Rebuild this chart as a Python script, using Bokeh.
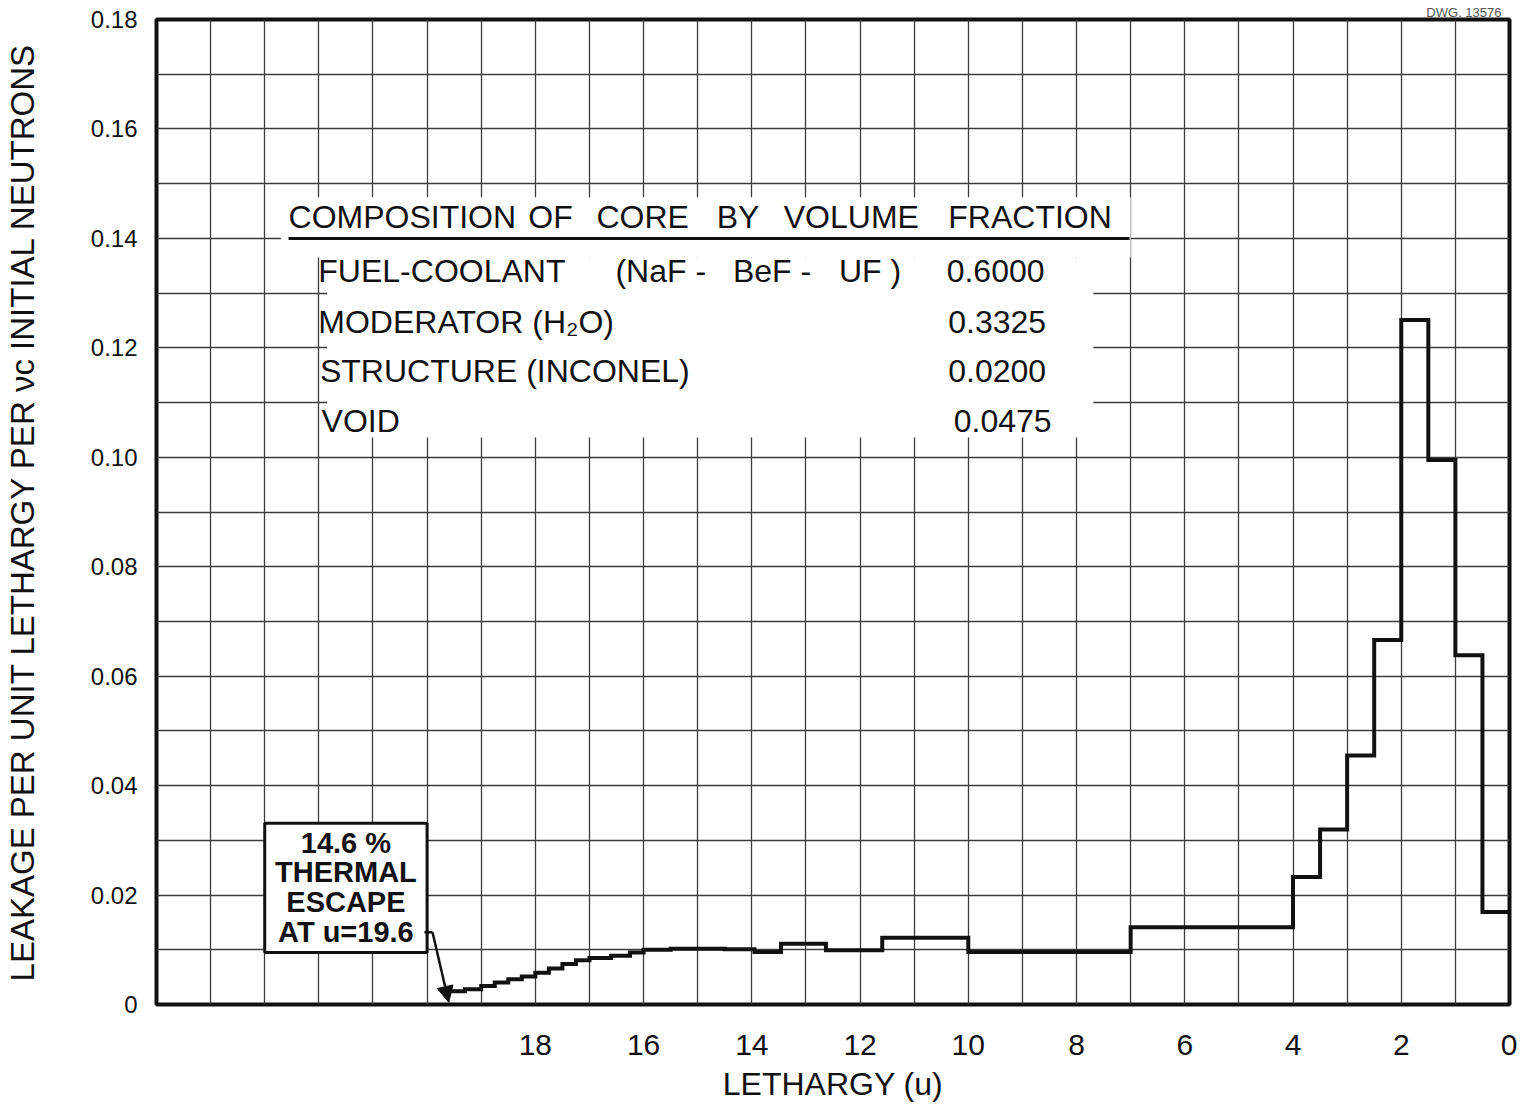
from bokeh.plotting import figure
from bokeh.models import Range1d, FixedTicker, Arrow, NormalHead, CustomJSTickFormatter
from bokeh.core.properties import value
from bokeh.embed import file_html
from bokeh.resources import INLINE

# ---- data ----
u_edges = [19.6, 19.3, 19.0, 18.75, 18.5, 18.25, 18.0, 17.75, 17.5, 17.25, 17.0,
           16.6, 16.25, 16.0, 15.5, 15.0, 14.5, 13.95, 13.46, 12.63, 11.59, 10.0,
           7.0, 4.0, 3.5, 3.0, 2.5, 2.0, 1.5, 1.0, 0.5, 0.0]
leakage = [0.0024, 0.0028, 0.0034, 0.0040, 0.0046, 0.0051, 0.0058, 0.0066, 0.0074,
           0.0081, 0.0085, 0.0089, 0.0095, 0.0100, 0.0102, 0.0102, 0.0101, 0.0096,
           0.0111, 0.0099, 0.0122, 0.0096, 0.0141, 0.0233, 0.0320, 0.0455, 0.0666,
           0.1251, 0.0995, 0.0638, 0.0169]
x_ticks = [18, 16, 14, 12, 10, 8, 6, 4, 2, 0]
y_ticks = [0, 0.02, 0.04, 0.06, 0.08, 0.10, 0.12, 0.14, 0.16, 0.18]
comp_labels = ["FUEL-COOLANT", "MODERATOR (H\u2082O)", "STRUCTURE  (INCONEL)", "VOID"]
comp_values = ["0.6000", "0.3325", "0.0200", "0.0475"]
fuel_parts = ["(NaF -", "BeF -", "UF )"]
header_words = ["COMPOSITION", "OF", "CORE", "BY", "VOLUME", "FRACTION"]
note_lines = ["14.6 %", "THERMAL", "ESCAPE", "AT u=19.6"]
escape_u = 19.6

SANS = "Liberation Sans"
INK = "#111111"

p = figure(x_range=Range1d(25, 0), y_range=Range1d(0, 0.18),
           frame_width=1353, frame_height=985,
           min_border_left=142, min_border_right=8, min_border_top=19, min_border_bottom=92,
           output_backend="svg", toolbar_location=None)
p.background_fill_color = "white"
p.border_fill_color = "white"
p.outline_line_color = INK
p.outline_line_width = 4

# drawing number (as a small right-aligned title)
p.title.text = "DWG. 13576"
p.title.align = "right"
p.title.text_font = SANS
p.title.text_font_size = "13px"
p.title.text_font_style = "normal"
p.title.text_color = "#555555"
p.title.standoff = 0
p.title.offset = 8

# axes
p.xaxis.ticker = FixedTicker(ticks=x_ticks)
p.yaxis.ticker = FixedTicker(ticks=y_ticks)
p.yaxis.formatter = CustomJSTickFormatter(code="return tick == 0 ? '0' : tick.toFixed(2);")
for ax in (p.xaxis[0], p.yaxis[0]):
    ax.axis_line_color = None
    ax.major_tick_line_color = None
    ax.minor_tick_line_color = None
    ax.major_label_text_color = INK
    ax.axis_label_text_color = INK
    ax.axis_label_text_font_style = "normal"
    ax.major_label_text_font = SANS
    ax.axis_label_text_font = SANS
p.xaxis.major_label_text_font_size = "30px"
p.xaxis.major_label_standoff = 24
p.xaxis.axis_label = "LETHARGY (u)"
p.xaxis.axis_label_text_font_size = "32px"
p.xaxis.axis_label_standoff = 8
p.yaxis.major_label_text_font_size = "24px"
p.yaxis.major_label_standoff = 13
p.yaxis.axis_label = "LEAKAGE PER UNIT LETHARGY PER \u03bdc INITIAL NEUTRONS"
p.yaxis.axis_label_text_font_size = "33px"
p.yaxis.axis_label_standoff = 47

# grid (graph paper)
p.xgrid.ticker = FixedTicker(ticks=list(range(0, 26)))
p.ygrid.ticker = FixedTicker(ticks=[round(i * 0.01, 2) for i in range(19)])
for g in (p.xgrid[0], p.ygrid[0]):
    g.grid_line_color = "#3c3c3c"
    g.grid_line_width = 1.3

# white area for the composition table
p.quad(left=22.7, right=7.0, top=0.1475, bottom=0.1365, fill_color="white", line_color=None)
p.quad(left=21.85, right=7.69, top=0.1365, bottom=0.1036, fill_color="white", line_color=None)

TXT = dict(text_font=value(SANS), text_baseline="middle", text_align="left", text_color=INK)
# table header
header_x = [22.56, 18.13, 16.87, 14.65, 13.41, 10.37]
p.text(x=header_x, y=[0.1440] * 6, text=header_words, text_font_size="32px", **TXT)
p.line([22.56, 7.02], [0.1400, 0.1400], line_width=3, color=INK)
row_y = [0.1340, 0.1248, 0.1157, 0.1067]
p.text(x=[22.01, 22.01, 21.98, 21.95], y=row_y, text=comp_labels, text_font_size="32px", **TXT)
p.text(x=[16.52, 14.35, 12.39], y=[row_y[0]] * 3, text=fuel_parts, text_font_size="32px", **TXT)
p.text(x=[10.40, 10.37, 10.37, 10.27], y=row_y, text=comp_values, text_font_size="32px", **TXT)

# leakage histogram
xs, ys = [], []
for i, v in enumerate(leakage):
    xs += [u_edges[i], u_edges[i + 1]]
    ys += [v, v]
p.line(xs, ys, line_width=4, color=INK, line_join="miter")

# thermal escape note
p.quad(left=23.0, right=20.0, top=0.0331, bottom=0.0095, fill_color="white",
       line_color=INK, line_width=3)
p.text(x=[21.5] * 4, y=[0.0296, 0.0243, 0.0188, 0.0133], text=note_lines,
       text_font=value(SANS), text_font_size="29px", text_font_style="bold",
       text_baseline="middle", text_align="center", text_color=INK)
p.line([20.05, 19.9], [0.0132, 0.0132], line_width=2.5, color=INK)
p.add_layout(Arrow(x_start=19.9, y_start=0.0132, x_end=escape_u, y_end=0.0004,
                   line_width=2.5, line_color=INK,
                   end=NormalHead(size=16, fill_color=INK, line_color=INK)))

open("out.html", "w").write(file_html(p, INLINE))
